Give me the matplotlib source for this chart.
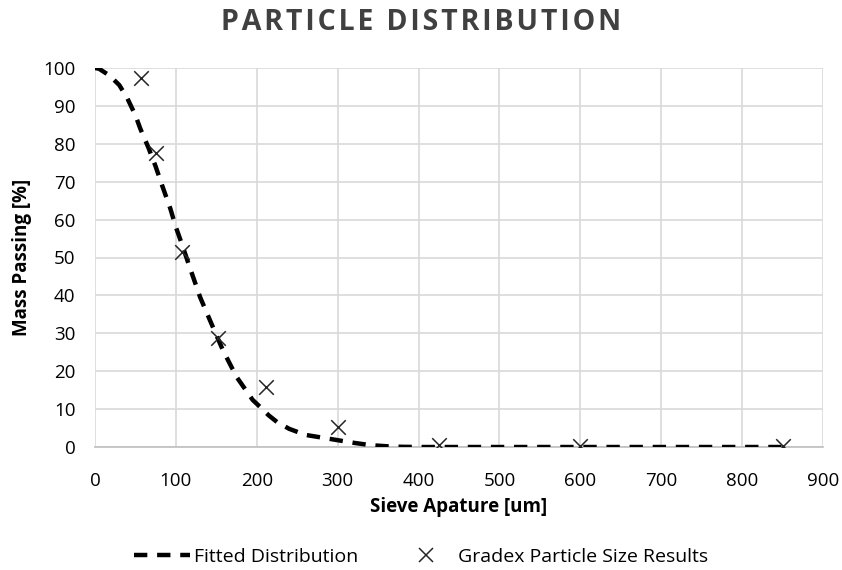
import matplotlib
matplotlib.use("Agg")
import matplotlib.pyplot as plt
from matplotlib.lines import Line2D

# Fitted distribution curve
fit_x = [0, 5, 18, 30, 40, 50, 56, 66, 75, 83, 93, 100, 107, 117, 130, 142, 158, 175, 195, 204, 215, 225, 240, 260, 280, 300, 320, 340, 360, 380, 400, 500, 600, 700, 850]
fit_y = [100, 99.8, 98, 95.5, 92, 87.5, 84, 79, 74, 69, 63, 58, 53.8, 47.5, 39.5, 33.5, 25.6, 18.5, 12.4, 10.6, 8.3, 6.6, 4.8, 3.2, 2.5, 1.8, 1.1, 0.5, 0.2, 0.05, 0, 0, 0, 0, 0]

# Gradex particle size results
sieve = [57, 76, 107, 152, 212, 300, 425, 600, 850]
passing = [97.4, 77.6, 51.5, 28.8, 15.8, 5.3, 0.5, 0.3, 0.2]

xticks = list(range(0, 901, 100))
yticks = list(range(0, 101, 10))

plt.rcParams['font.family'] = ['Open Sans', 'DejaVu Sans']

W, H = 842, 570
fig = plt.figure(figsize=(W/100, H/100), dpi=100)
ax = fig.add_axes([95/W, 1-447/H, (823-95)/W, (447-68)/H])

ax.plot(fit_x, fit_y, color='black', linewidth=3.2, linestyle=(0, (3, 2.2)), zorder=3)
ax.scatter(sieve, passing, marker='x', s=110, color='#262626', linewidths=1.1, zorder=4)

ax.set_xlim(0, 900)
ax.set_ylim(0, 100)
ax.set_xticks(xticks)
ax.set_yticks(yticks)
ax.grid(True, color='#d9d9d9', linewidth=1.2)
ax.set_axisbelow(True)
for s in ['top', 'right', 'left']:
    ax.spines[s].set_visible(False)
ax.spines['bottom'].set_color('#bfbfbf')
ax.spines['bottom'].set_linewidth(1.2)
ax.tick_params(axis='both', length=0, labelsize=13.5, colors='black')
ax.tick_params(axis='y', pad=14)
ax.tick_params(axis='x', pad=18)

ax.set_xlabel('Sieve Apature [um]', fontsize=13.5, fontweight='bold')
ax.set_ylabel('Mass Passing [%]', fontsize=13.5, fontweight='bold')
ax.xaxis.set_label_coords((459-95)/(823-95), -(507-447)/(447-68))
ax.yaxis.set_label_coords(-(95-22)/(823-95), 0.5)
ax.xaxis.label.set_va('center')
ax.yaxis.label.set_va('center')

title = '\u200a'.join('PARTICLE DISTRIBUTION')
fig.text(421/W, 1-23/H, title, ha='center', va='center', fontsize=20.5,
         fontweight='bold', color='#404040')

handles = [Line2D([0], [0], color='black', linewidth=3.2, linestyle=(0, (3, 2.2))),
           Line2D([0], [0], marker='x', color='#262626', linestyle='none', markersize=10, markeredgewidth=1.1)]
fig.legend(handles, ['Fitted Distribution', 'Gradex Particle Size Results'],
           loc='center', bbox_to_anchor=(421/W, 1-557/H), ncol=2, frameon=False,
           fontsize=14, handlelength=2.9, handletextpad=0.2, columnspacing=2.0)

fig.savefig('out.png', dpi=100)
